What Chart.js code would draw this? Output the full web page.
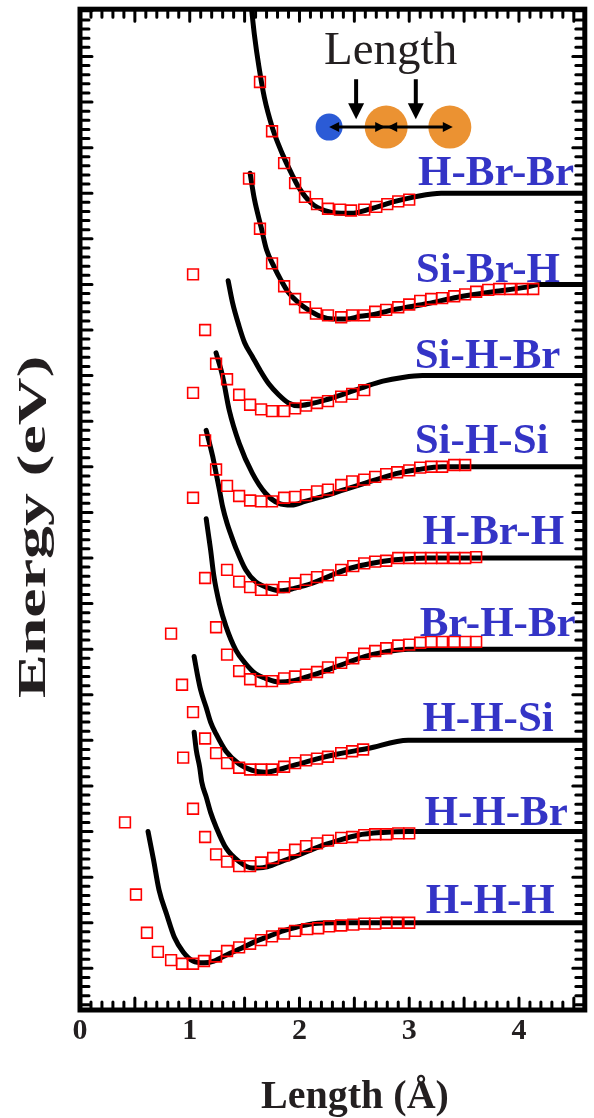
<!DOCTYPE html>
<html>
<head>
<meta charset="utf-8">
<title>Energy vs length</title>
<script src="https://cdn.jsdelivr.net/npm/chart.js@4.4.1/dist/chart.umd.min.js"></script>
<style>
  html, body { margin: 0; padding: 0; background: #fff; }
</style>
</head>
<body>
<canvas id="pes" width="594" height="1118"></canvas>
<script>
// curve names, bottom to top, and how far (eV) each one is moved up
const systems = ['H-H-H', 'H-H-Br', 'H-H-Si', 'Br-H-Br', 'H-Br-H', 'Si-H-Si', 'Si-H-Br', 'Si-Br-H', 'H-Br-Br'];
const shifts = [0, 1, 2, 3, 4, 5, 6, 7, 8];
const xTicks = [0, 1, 2, 3, 4];

// black lines (x in Å, E in eV relative to the dissociation limit)
const hhhLineX = [0.62, 0.67, 0.72, 0.79, 0.86, 0.94, 1.03, 1.13, 1.22, 1.34, 1.47, 1.59, 1.72, 1.85, 1.97, 2.13, 2.31, 4.6];
const hhhLineE = [1.00, 0.69, 0.36, 0.09, -0.16, -0.32, -0.42, -0.44, -0.42, -0.35, -0.28, -0.21, -0.15, -0.09, -0.05, -0.01, 0, 0];
const hhbrLineX = [1.04, 1.06, 1.09, 1.11, 1.15, 1.19, 1.24, 1.33, 1.45, 1.57, 1.69, 1.81, 1.99, 2.17, 2.35, 2.53, 2.76, 2.99, 4.6];
const hhbrLineE = [1.09, 0.89, 0.71, 0.54, 0.38, 0.21, 0.05, -0.18, -0.33, -0.40, -0.39, -0.34, -0.26, -0.17, -0.10, -0.04, -0.01, 0, 0];
const hhsiLineX = [1.04, 1.07, 1.10, 1.15, 1.19, 1.24, 1.33, 1.45, 1.57, 1.69, 1.87, 2.02, 2.17, 2.35, 2.62, 2.99, 4.6];
const hhsiLineE = [0.92, 0.72, 0.55, 0.36, 0.20, 0.07, -0.12, -0.26, -0.33, -0.35, -0.30, -0.25, -0.20, -0.15, -0.09, 0, 0];
const brhbrLineX = [1.15, 1.17, 1.19, 1.22, 1.27, 1.33, 1.42, 1.51, 1.60, 1.69, 1.81, 1.93, 2.05, 2.23, 2.41, 2.60, 2.78, 2.99, 4.6];
const brhbrLineE = [1.43, 1.26, 1.09, 0.80, 0.50, 0.25, -0.01, -0.16, -0.27, -0.32, -0.36, -0.35, -0.31, -0.24, -0.16, -0.08, -0.03, 0, 0];
const hbrhLineX = [1.15, 1.18, 1.21, 1.24, 1.27, 1.30, 1.34, 1.38, 1.42, 1.51, 1.60, 1.72, 1.84, 1.96, 2.11, 2.29, 2.47, 2.65, 2.87, 3.17, 4.6];
const hbrhLineE = [1.40, 1.26, 1.11, 0.93, 0.75, 0.56, 0.38, 0.24, 0.11, -0.13, -0.26, -0.33, -0.36, -0.33, -0.28, -0.19, -0.11, -0.06, -0.02, 0, 0];
const sihsiLineX = [1.24, 1.30, 1.36, 1.45, 1.57, 1.69, 1.81, 1.93, 2.05, 2.23, 2.41, 2.60, 2.78, 2.90, 3.08, 3.30, 4.6];
const sihsiLineE = [1.25, 0.99, 0.62, 0.26, -0.07, -0.29, -0.40, -0.42, -0.38, -0.32, -0.25, -0.18, -0.11, -0.07, -0.03, 0, 0];
const sihbrLineX = [1.35, 1.39, 1.45, 1.50, 1.57, 1.64, 1.72, 1.81, 1.90, 1.99, 2.10, 2.23, 2.41, 2.60, 2.76, 2.94, 3.12, 4.6];
const sihbrLineE = [1.04, 0.80, 0.54, 0.36, 0.21, 0.06, -0.09, -0.21, -0.30, -0.33, -0.31, -0.27, -0.20, -0.12, -0.06, -0.02, 0, 0];
const sibrhLineX = [1.55, 1.59, 1.65, 1.70, 1.77, 1.83, 1.90, 1.99, 2.08, 2.19, 2.31, 2.43, 2.55, 2.68, 2.81, 2.94, 3.17, 3.44, 3.77, 4.07, 4.19, 4.6];
const sibrhLineE = [1.22, 0.93, 0.63, 0.38, 0.19, 0.05, -0.09, -0.20, -0.28, -0.35, -0.38, -0.38, -0.35, -0.33, -0.29, -0.26, -0.21, -0.14, -0.08, -0.03, 0, 0];
const hbrbrLineX = [1.56, 1.59, 1.63, 1.68, 1.75, 1.81, 1.87, 1.93, 1.99, 2.11, 2.23, 2.38, 2.47, 2.65, 2.87, 3.05, 3.29, 4.6];
const hbrbrLineE = [2.06, 1.73, 1.39, 1.05, 0.73, 0.53, 0.36, 0.21, 0.07, -0.11, -0.19, -0.22, -0.22, -0.17, -0.09, -0.04, 0, 0];

// red squares
const hhhFitX = [0.41, 0.51, 0.61, 0.71, 0.83, 0.93, 1.03, 1.13, 1.24, 1.34, 1.45, 1.55, 1.65, 1.75, 1.86, 1.96, 2.07, 2.17, 2.27, 2.38, 2.49, 2.59, 2.69, 2.79, 2.89, 3.00];
const hhhFitE = [1.10, 0.31, -0.11, -0.32, -0.41, -0.45, -0.45, -0.42, -0.37, -0.31, -0.27, -0.23, -0.19, -0.15, -0.12, -0.09, -0.07, -0.06, -0.04, -0.03, -0.02, -0.01, -0.01, 0, 0, 0];
const hhbrFitX = [0.94, 1.03, 1.14, 1.24, 1.34, 1.45, 1.55, 1.65, 1.76, 1.86, 1.96, 2.06, 2.16, 2.26, 2.38, 2.48, 2.59, 2.69, 2.79, 2.90, 3.00];
const hhbrFitE = [0.81, 0.25, -0.06, -0.25, -0.33, -0.38, -0.38, -0.34, -0.29, -0.26, -0.20, -0.16, -0.13, -0.10, -0.07, -0.06, -0.04, -0.03, -0.03, -0.02, -0.02];
const hhsiFitX = [0.83, 0.93, 1.03, 1.14, 1.24, 1.34, 1.45, 1.55, 1.65, 1.75, 1.86, 1.96, 2.06, 2.16, 2.26, 2.38, 2.48, 2.58];
const hhsiFitE = [1.17, 0.61, 0.31, 0.02, -0.14, -0.25, -0.30, -0.32, -0.32, -0.32, -0.29, -0.25, -0.22, -0.20, -0.18, -0.14, -0.12, -0.10];
const brhbrFitX = [1.14, 1.24, 1.34, 1.45, 1.55, 1.65, 1.75, 1.86, 1.96, 2.06, 2.16, 2.26, 2.38, 2.49, 2.59, 2.69, 2.79, 2.90, 3.00, 3.10, 3.20, 3.30, 3.41, 3.51, 3.61];
const brhbrFitE = [0.78, 0.24, -0.06, -0.24, -0.33, -0.35, -0.35, -0.32, -0.30, -0.28, -0.25, -0.20, -0.15, -0.10, -0.05, -0.02, 0.01, 0.04, 0.05, 0.07, 0.08, 0.08, 0.08, 0.08, 0.08];
const hbrhFitX = [1.03, 1.34, 1.45, 1.55, 1.65, 1.75, 1.86, 1.96, 2.06, 2.16, 2.26, 2.38, 2.49, 2.59, 2.69, 2.79, 2.90, 3.00, 3.10, 3.20, 3.30, 3.41, 3.51, 3.61];
const hbrhFitE = [0.66, -0.13, -0.26, -0.32, -0.35, -0.35, -0.32, -0.28, -0.24, -0.21, -0.19, -0.13, -0.09, -0.06, -0.04, -0.03, 0, 0, 0, 0, 0, 0, 0, 0.01];
const sihsiFitX = [1.03, 1.14, 1.24, 1.34, 1.45, 1.55, 1.65, 1.75, 1.86, 1.96, 2.06, 2.16, 2.26, 2.38, 2.48, 2.59, 2.69, 2.79, 2.89, 3.00, 3.10, 3.20, 3.30, 3.41, 3.51];
const sihsiFitE = [0.81, 0.29, -0.03, -0.21, -0.32, -0.37, -0.38, -0.38, -0.34, -0.33, -0.31, -0.27, -0.25, -0.20, -0.16, -0.14, -0.11, -0.08, -0.06, -0.04, -0.01, 0, 0, 0.02, 0.02];
const sihbrFitX = [1.03, 1.14, 1.24, 1.34, 1.45, 1.55, 1.65, 1.75, 1.86, 1.96, 2.06, 2.16, 2.26, 2.38, 2.48, 2.59];
const sihbrFitE = [1.11, 0.50, 0.13, -0.04, -0.21, -0.32, -0.37, -0.39, -0.39, -0.36, -0.33, -0.30, -0.28, -0.23, -0.20, -0.16];
const sibrhFitX = [1.54, 1.64, 1.75, 1.86, 1.96, 2.05, 2.15, 2.26, 2.38, 2.48, 2.59, 2.69, 2.79, 2.90, 3.00, 3.10, 3.20, 3.30, 3.41, 3.51, 3.61, 3.72, 3.82, 3.92, 4.03, 4.13];
const sibrhFitE = [1.16, 0.61, 0.23, -0.02, -0.16, -0.25, -0.32, -0.34, -0.36, -0.34, -0.34, -0.30, -0.28, -0.25, -0.22, -0.18, -0.16, -0.15, -0.13, -0.11, -0.08, -0.06, -0.05, -0.05, -0.05, -0.05];
const hbrbrFitX = [1.64, 1.75, 1.86, 1.96, 2.05, 2.16, 2.26, 2.37, 2.47, 2.59, 2.70, 2.80, 2.90, 3.00];
const hbrbrFitE = [1.22, 0.68, 0.33, 0.11, -0.04, -0.12, -0.17, -0.18, -0.19, -0.18, -0.15, -0.12, -0.09, -0.07];

const lineX = [hhhLineX, hhbrLineX, hhsiLineX, brhbrLineX, hbrhLineX, sihsiLineX, sihbrLineX, sibrhLineX, hbrbrLineX];
const lineE = [hhhLineE, hhbrLineE, hhsiLineE, brhbrLineE, hbrhLineE, sihsiLineE, sihbrLineE, sibrhLineE, hbrbrLineE];
const fitX = [hhhFitX, hhbrFitX, hhsiFitX, brhbrFitX, hbrhFitX, sihsiFitX, sihbrFitX, sibrhFitX, hbrbrFitX];
const fitE = [hhhFitE, hhbrFitE, hhsiFitE, brhbrFitE, hbrhFitE, sihsiFitE, sihbrFitE, sibrhFitE, hbrbrFitE];

// where the blue names sit: left edge (Å) and gap above the flat line (eV)
const labelLeft = [3.15, 3.14, 3.12, 3.095, 3.12, 3.05, 3.05, 3.06, 3.08];
const labelGap = [0.11, 0.07, 0.10, 0.14, 0.15, 0.15, 0.08, 0.03, 0.09];

const SERIF = "'Liberation Serif', 'Times New Roman', serif";

const datasets = [];
systems.forEach((name, i) => {
  datasets.push({
    label: name + ' fit',
    data: fitX[i].map((x, j) => ({ x: x, y: fitE[i][j] + shifts[i] })),
    showLine: false,
    pointStyle: 'rect',
    pointRadius: 7.6,
    pointBorderWidth: 1.6,
    pointBorderColor: '#ff0000',
    pointBackgroundColor: 'rgba(0,0,0,0)',
    order: 0
  });
  datasets.push({
    label: name,
    data: lineX[i].map((x, j) => ({ x: x, y: lineE[i][j] + shifts[i] })),
    showLine: true,
    pointRadius: 0,
    borderColor: '#000',
    borderWidth: 5,
    borderCapStyle: 'round',
    borderJoinStyle: 'round',
    cubicInterpolationMode: 'monotone',
    order: 1
  });
});

function arrowHead(ctx, x, y, dir, len, half) {
  // dir: angle the arrow points to
  ctx.save();
  ctx.translate(x, y);
  ctx.rotate(dir);
  ctx.beginPath();
  ctx.moveTo(0, 0);
  ctx.lineTo(-len, -half);
  ctx.lineTo(-len, half);
  ctx.closePath();
  ctx.fill();
  ctx.restore();
}

const decorations = {
  id: 'decorations',
  afterDraw(chart) {
    const { ctx, chartArea: a } = chart;
    const xs = chart.scales.x, ys = chart.scales.y;
    ctx.save();

    // inward ticks on all four sides
    ctx.strokeStyle = '#000';
    ctx.lineWidth = 3;
    ctx.lineCap = 'round';
    ctx.beginPath();
    for (let i = Math.ceil(xs.min * 10); i <= Math.floor(xs.max * 10); i++) {
      const px = xs.getPixelForValue(i / 10);
      const len = i % 5 === 0 ? 12 : 8;
      ctx.moveTo(px, a.bottom); ctx.lineTo(px, a.bottom - len);
      ctx.moveTo(px, a.top); ctx.lineTo(px, a.top + len);
    }
    for (let i = Math.ceil(ys.min * 10); i <= Math.floor(ys.max * 10); i++) {
      const py = ys.getPixelForValue(i / 10);
      const len = i % 5 === 0 ? 12 : 9;
      ctx.moveTo(a.left, py); ctx.lineTo(a.left + len, py);
      ctx.moveTo(a.right, py); ctx.lineTo(a.right - len, py);
    }
    ctx.stroke();

    // frame
    ctx.lineCap = 'butt';
    ctx.lineWidth = 5;
    ctx.strokeRect(a.left, a.top, a.right - a.left, a.bottom - a.top);

    // names of the systems
    ctx.fillStyle = '#3434c6';
    ctx.font = 'bold 43px ' + SERIF;
    ctx.textAlign = 'left';
    ctx.textBaseline = 'alphabetic';
    systems.forEach((name, i) => {
      const px = xs.getPixelForValue(labelLeft[i]);
      const py = ys.getPixelForValue(shifts[i] + labelGap[i]);
      ctx.fillText(name, px, py);
    });

    // inset: three atoms and the bond lengths
    const rowY = ys.getPixelForValue(8.725);
    const ax = [2.27, 2.79, 3.37].map(v => xs.getPixelForValue(v));
    ctx.fillStyle = '#2b5bd6';
    ctx.beginPath(); ctx.arc(ax[0], rowY, 13.5, 0, Math.PI * 2); ctx.fill();
    ctx.fillStyle = '#eb9232';
    ctx.beginPath(); ctx.arc(ax[1], rowY, 21.5, 0, Math.PI * 2); ctx.fill();
    ctx.beginPath(); ctx.arc(ax[2], rowY, 21.5, 0, Math.PI * 2); ctx.fill();

    ctx.strokeStyle = '#000';
    ctx.fillStyle = '#000';
    ctx.lineWidth = 3;
    ctx.beginPath();
    ctx.moveTo(ax[0] + 4, rowY); ctx.lineTo(ax[2] - 6, rowY);
    ctx.stroke();
    arrowHead(ctx, ax[0], rowY, Math.PI, 10, 5);
    arrowHead(ctx, ax[1] - 1, rowY, 0, 10, 5);
    arrowHead(ctx, ax[1] + 1, rowY, Math.PI, 10, 5);
    arrowHead(ctx, ax[2] + 3, rowY, 0, 10, 5);

    const topY = ys.getPixelForValue(9.25);
    const tipY = ys.getPixelForValue(8.81);
    [2.516, 3.06].forEach(v => {
      const px = xs.getPixelForValue(v);
      ctx.lineWidth = 4;
      ctx.beginPath(); ctx.moveTo(px, topY); ctx.lineTo(px, tipY - 12); ctx.stroke();
      arrowHead(ctx, px, tipY, Math.PI / 2, 16, 8);
    });

    ctx.fillStyle = '#231f20';
    ctx.font = '47px ' + SERIF;
    ctx.textAlign = 'center';
    ctx.fillText('Length', xs.getPixelForValue(2.83), ys.getPixelForValue(9.42));

    // axis titles
    ctx.fillStyle = '#231f20';
    ctx.font = 'bold 40px ' + SERIF;
    ctx.textAlign = 'center';
    ctx.fillText('Length (\u00c5)', 355, 1108);
    ctx.translate(45, 527);
    ctx.rotate(-Math.PI / 2);
    ctx.scale(1.65, 1);
    ctx.fillText('Energy (eV)', 0, 0);

    ctx.restore();
  }
};

new Chart(document.getElementById('pes'), {
  type: 'scatter',
  data: { datasets: datasets },
  options: {
    responsive: false,
    animation: false,
    layout: { padding: { top: 9, right: 6, left: 0, bottom: 0 } },
    plugins: { legend: { display: false }, tooltip: { enabled: false } },
    scales: {
      x: {
        type: 'linear',
        min: 0,
        max: 4.6,
        afterFit: s => { s.height = 108; },
        grid: { display: false, drawTicks: false },
        border: { display: false },
        afterBuildTicks: s => { s.ticks = xTicks.map(v => ({ value: v })); },
        ticks: {
          padding: 3,
          color: '#231f20',
          font: { family: SERIF, size: 30, weight: 'bold' }
        }
      },
      y: {
        type: 'linear',
        min: -0.957,
        max: 10.018,
        afterFit: s => { s.width = 80; },
        grid: { display: false, drawTicks: false },
        border: { display: false },
        ticks: { display: false }
      }
    }
  },
  plugins: [decorations]
});
</script>
</body>
</html>
